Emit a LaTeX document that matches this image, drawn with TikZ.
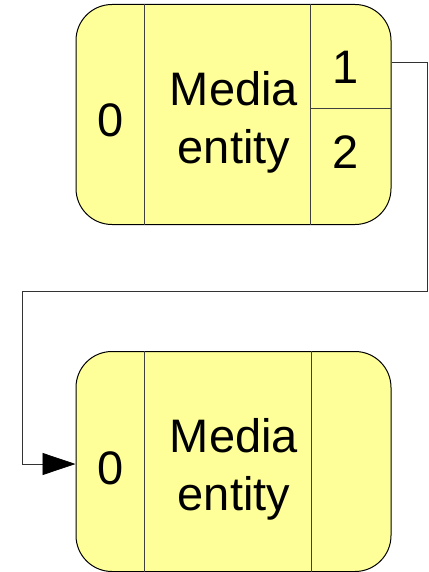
\documentclass[tikz,border=0pt]{standalone}
\usepackage{fontspec}
\setmainfont{Liberation Sans}
\usetikzlibrary{arrows.meta}
\definecolor{entityfill}{HTML}{FFFF99}

\begin{document}
\begin{tikzpicture}[x=1pt,y=-1pt]
\tikzstyle{entity} = [rectangle, draw=black, line width=1pt, fill=entityfill,
rounded corners=36pt, minimum width=315pt, minimum height=220pt, inner sep=0pt]
\tikzstyle{divider} = [draw=black!75, line width=0.9pt];
\tikzstyle{label} = [font=\fontsize{47}{58}\selectfont, align=center, inner sep=0pt];
\tikzstyle{link} = [draw=black!80, line width=0.8pt,
-{Triangle[length=33pt,width=22pt,black]}];
\useasboundingbox (0,0) rectangle (428,572);

% upper entity, pads 0 / 1 / 2
\node [entity] (top) at (233.5,114.5) {};
\path [divider] ([xshift=-89.5pt]top.north) -- ([xshift=-89.5pt]top.south);
\path [divider] ([xshift=76.5pt]top.north) -- ([xshift=76.5pt]top.south);
\path [divider] ([xshift=76.5pt,yshift=-104.5pt]top.north) -- ++(81,0);
\node [label] (pad0) at (111,120) {0};
\node [label] (name) at (234,122) {Media\\entity};
\node [label] (pad1) at (346,67) {1};
\node [label] (pad2) at (346,152) {2};

% lower entity, sink pad 0 only
\node [entity] (bot) at (233.5,461.5) {};
\path [divider] ([xshift=-89.5pt]bot.north) -- ([xshift=-89.5pt]bot.south);
\path [divider] ([xshift=77.5pt]bot.north) -- ([xshift=77.5pt]bot.south);
\node [label] (sink0) at (111,468) {0};
\node [label] (name2) at (234,469) {Media\\entity};

% link from pad 1 back round to pad 0
\coordinate (bendR) at (427,291);
\coordinate (bendL) at (22,291);
\path [link] ([yshift=-58.5pt]top.north east) -| (bendR) -- (bendL)
  |- ([yshift=-2.5pt]bot.west);
\end{tikzpicture}
\end{document}
